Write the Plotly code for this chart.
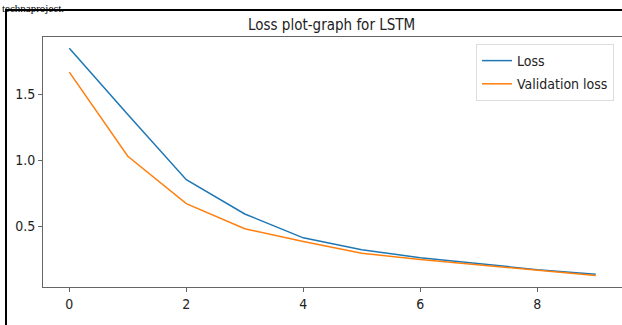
import plotly.graph_objects as go

epochs = list(range(10))
loss = [1.846, 1.345, 0.853, 0.595, 0.415, 0.325, 0.265, 0.222, 0.175, 0.140]
val_loss = [1.665, 1.030, 0.673, 0.483, 0.387, 0.298, 0.252, 0.212, 0.170, 0.130]
x_ticks = [0, 2, 4, 6, 8]
y_ticks = [0.5, 1.0, 1.5]

W, H = 622, 325
L, R, T, B = 43, 0, 37, 38
pw = W - L - R
ph = H - T - B

FONT = "DejaVu Sans Condensed, DejaVu Sans"

def px(p):
    return (p - L) / pw

def py(p):
    return (H - B - p) / ph

fig = go.Figure()
fig.add_trace(go.Scatter(x=epochs, y=loss, mode="lines", name="Loss",
                         line=dict(color="#1f77b4", width=1.5), legendgroup="a"))
fig.add_trace(go.Scatter(x=epochs, y=val_loss, mode="lines", name="Validation loss",
                         line=dict(color="#ff7f0e", width=1.5), legendgroup="b"))

axis_common = dict(showgrid=False, zeroline=False, showline=True, linecolor="#666666",
                   linewidth=1, mirror=True, ticks="outside", ticklen=4, tickcolor="#666666",
                   tickfont=dict(family=FONT, size=14, color="#222222"))

fig.update_layout(
    width=W, height=H,
    margin=dict(l=L, r=R, t=T, b=B, pad=0),
    paper_bgcolor="white", plot_bgcolor="white",
    showlegend=True,
    legend=dict(x=px(614), y=py(44), xanchor="right", yanchor="top",
                bgcolor="white", bordercolor="#dddddd", borderwidth=1,
                font=dict(family=FONT, size=14, color="#222222"),
                tracegroupgap=2, itemwidth=30),
    xaxis=dict(range=[-0.45, 9.45], tickvals=x_ticks, **axis_common),
    yaxis=dict(range=[0.044, 1.93], tickvals=y_ticks, tickformat=".1f", **axis_common),
    annotations=[
        dict(text="Loss plot-graph for LSTM", xref="paper", yref="paper",
             x=px(331), y=py(25), xanchor="center", yanchor="middle", showarrow=False,
             font=dict(family=FONT, size=15, color="#222222")),
        dict(text="technaproject.", xref="paper", yref="paper",
             x=px(0), y=py(0), xanchor="left", yanchor="top", showarrow=False,
             font=dict(family="Liberation Serif", size=11, color="black")),
    ],
    shapes=[
        dict(type="line", xref="paper", yref="paper", x0=px(6), x1=px(6), y0=py(9), y1=py(330),
             line=dict(color="black", width=2)),
        dict(type="line", xref="paper", yref="paper", x0=px(5), x1=px(630), y0=py(10), y1=py(10),
             line=dict(color="black", width=2)),
    ],
)

fig.write_html("out.html", config={"displayModeBar": False},
               post_script="document.body.style.margin='0px';document.body.style.overflow='hidden';")
